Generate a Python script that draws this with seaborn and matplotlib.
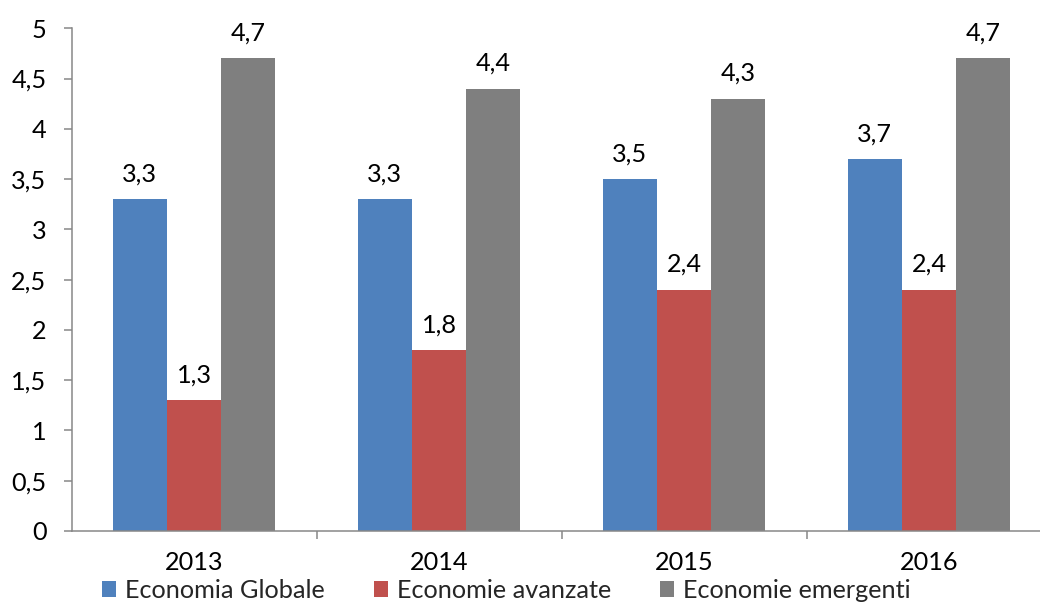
import matplotlib
matplotlib.use("Agg")
import matplotlib.pyplot as plt
import matplotlib.ticker as mticker
import seaborn as sns
import pandas as pd

years = ["2013", "2014", "2015", "2016"]
series = ["Economia Globale", "Economie avanzate", "Economie emergenti"]
globale = [3.3, 3.3, 3.5, 3.7]
avanzate = [1.3, 1.8, 2.4, 2.4]
emergenti = [4.7, 4.4, 4.3, 4.7]
colors = ["#4F81BD", "#C0504D", "#7F7F7F"]

rows = []
for s, vals in zip(series, [globale, avanzate, emergenti]):
    for y, v in zip(years, vals):
        rows.append({"Anno": y, "Serie": s, "Valore": v})
df = pd.DataFrame(rows)

sns.set_theme(style="white")
plt.rcParams["font.family"] = ["Lato", "DejaVu Sans"]
FS = 18.2

fig = plt.figure(figsize=(10.4, 6.04), dpi=100)
ax = fig.add_axes([71.5 / 1040, 73 / 604, 980 / 1040, 502.7 / 604])

sns.barplot(data=df, x="Anno", y="Valore", hue="Serie", palette=colors,
            width=0.665, gap=0, saturation=1, linewidth=0, ax=ax, errorbar=None)

ax.set_xlim(-0.5, 3.5)
ax.set_ylim(0, 5)
ax.yaxis.set_major_locator(mticker.MultipleLocator(0.5))
ax.yaxis.set_major_formatter(mticker.FuncFormatter(lambda v, p: f"{v:g}".replace(".", ",")))
ax.set_xlabel("")
ax.set_ylabel("")

for cont in ax.containers:
    ax.bar_label(cont, labels=[f"{b.get_height():g}".replace(".", ",") for b in cont],
                 padding=10, fontsize=FS, color="black")

for side in ["top", "right"]:
    ax.spines[side].set_visible(False)
for side in ["left", "bottom"]:
    ax.spines[side].set_color("#878787")
    ax.spines[side].set_linewidth(1.1)

ax.set_xticks([0.5, 1.5, 2.5], minor=True)
ax.tick_params(axis="x", which="major", length=0, pad=14.5, labelsize=FS, colors="black")
ax.tick_params(axis="x", which="minor", length=6, width=1.1, color="#878787", direction="out", bottom=True)
ax.tick_params(axis="y", which="major", length=6, width=1.1, color="#878787", direction="out",
               left=True, pad=12, labelsize=FS, labelcolor="black")
ax.tick_params(axis="x", labelcolor="black")

sns.move_legend(ax, "center", bbox_to_anchor=(0.487, 0.0225), bbox_transform=fig.transFigure,
                ncol=3, frameon=False, title=None, fontsize=FS,
                handlelength=0.55, handleheight=0.55, handletextpad=0.35,
                columnspacing=1.95, borderpad=0, borderaxespad=0)

fig.savefig("out.png", dpi=100)
